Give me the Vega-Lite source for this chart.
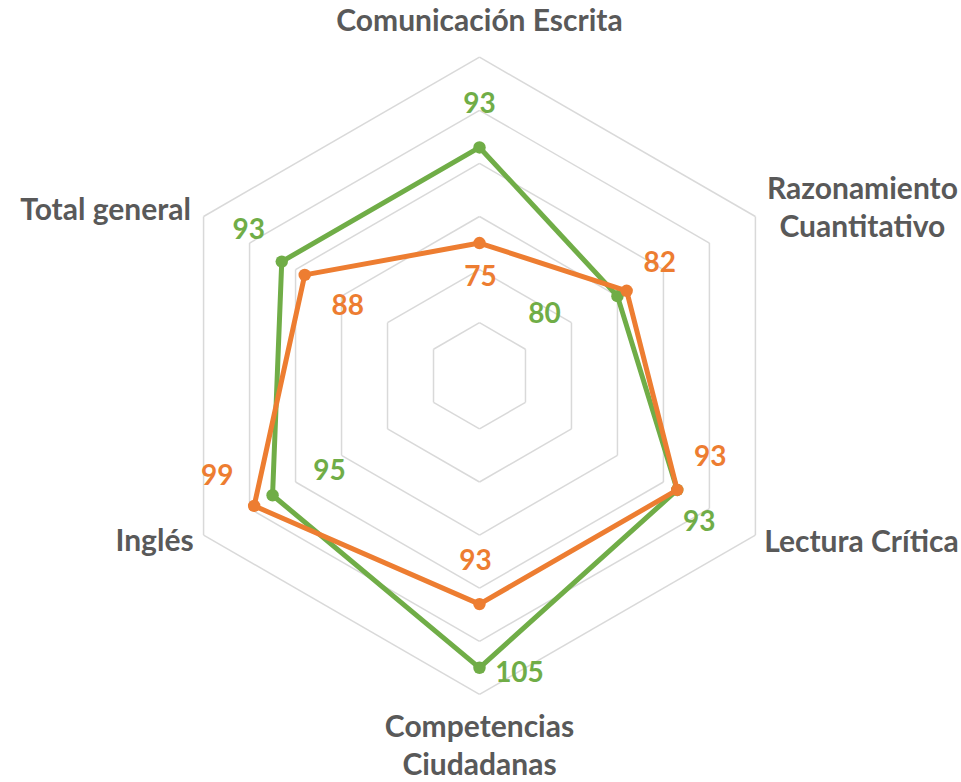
{
  "$schema": "https://vega.github.io/schema/vega-lite/v6.json",
  "width": 961,
  "height": 782,
  "autosize": {"type": "none"},
  "padding": 0,
  "background": "white",
  "config": {
    "view": {"stroke": null},
    "text": {"font": "Lato", "fontWeight": "bold", "fontSize": 28}
  },
  "datasets": {
    "puntos": [
      {"serie": "Serie 1", "eje": "Comunicación Escrita", "i": 0, "valor": 93},
      {"serie": "Serie 1", "eje": "Razonamiento Cuantitativo", "i": 1, "valor": 80},
      {"serie": "Serie 1", "eje": "Lectura Crítica", "i": 2, "valor": 93},
      {"serie": "Serie 1", "eje": "Competencias Ciudadanas", "i": 3, "valor": 105},
      {"serie": "Serie 1", "eje": "Inglés", "i": 4, "valor": 95},
      {"serie": "Serie 1", "eje": "Total general", "i": 5, "valor": 93},
      {"serie": "Serie 2", "eje": "Comunicación Escrita", "i": 0, "valor": 75},
      {"serie": "Serie 2", "eje": "Razonamiento Cuantitativo", "i": 1, "valor": 82},
      {"serie": "Serie 2", "eje": "Lectura Crítica", "i": 2, "valor": 93},
      {"serie": "Serie 2", "eje": "Competencias Ciudadanas", "i": 3, "valor": 93},
      {"serie": "Serie 2", "eje": "Inglés", "i": 4, "valor": 99},
      {"serie": "Serie 2", "eje": "Total general", "i": 5, "valor": 88}
    ],
    "ejes": [
      {"eje": "Comunicación Escrita", "i": 0},
      {"eje": "Razonamiento Cuantitativo", "i": 1},
      {"eje": "Lectura Crítica", "i": 2},
      {"eje": "Competencias Ciudadanas", "i": 3},
      {"eje": "Inglés", "i": 4},
      {"eje": "Total general", "i": 5}
    ],
    "rejilla": [
      {"nivel": 60, "i": 0}, {"nivel": 60, "i": 1}, {"nivel": 60, "i": 2}, {"nivel": 60, "i": 3}, {"nivel": 60, "i": 4}, {"nivel": 60, "i": 5},
      {"nivel": 70, "i": 0}, {"nivel": 70, "i": 1}, {"nivel": 70, "i": 2}, {"nivel": 70, "i": 3}, {"nivel": 70, "i": 4}, {"nivel": 70, "i": 5},
      {"nivel": 80, "i": 0}, {"nivel": 80, "i": 1}, {"nivel": 80, "i": 2}, {"nivel": 80, "i": 3}, {"nivel": 80, "i": 4}, {"nivel": 80, "i": 5},
      {"nivel": 90, "i": 0}, {"nivel": 90, "i": 1}, {"nivel": 90, "i": 2}, {"nivel": 90, "i": 3}, {"nivel": 90, "i": 4}, {"nivel": 90, "i": 5},
      {"nivel": 100, "i": 0}, {"nivel": 100, "i": 1}, {"nivel": 100, "i": 2}, {"nivel": 100, "i": 3}, {"nivel": 100, "i": 4}, {"nivel": 100, "i": 5},
      {"nivel": 110, "i": 0}, {"nivel": 110, "i": 1}, {"nivel": 110, "i": 2}, {"nivel": 110, "i": 3}, {"nivel": 110, "i": 4}, {"nivel": 110, "i": 5}
    ]
  },
  "encoding": {
    "x": {"field": "px", "type": "quantitative", "scale": {"domain": [-90.30, 90.68], "nice": false, "zero": false}, "axis": null},
    "y": {"field": "py", "type": "quantitative", "scale": {"domain": [-76.50, 70.77], "nice": false, "zero": false}, "axis": null}
  },
  "layer": [
    {
      "data": {"name": "rejilla"},
      "transform": [
        {"calculate": "(datum.nivel-50)*sin(datum.i*PI/3)", "as": "px"},
        {"calculate": "(datum.nivel-50)*cos(datum.i*PI/3)", "as": "py"},
        {"calculate": "(datum.nivel-50)*sin((datum.i+1)*PI/3)", "as": "px2"},
        {"calculate": "(datum.nivel-50)*cos((datum.i+1)*PI/3)", "as": "py2"}
      ],
      "mark": {"type": "rule", "color": "#D9D9D9", "strokeWidth": 1.5},
      "encoding": {"x2": {"field": "px2"}, "y2": {"field": "py2"}}
    },
    {
      "data": {"name": "puntos"},
      "transform": [
        {"filter": "datum.serie == 'Serie 1'"},
        {"window": [{"op": "lead", "field": "valor", "as": "sig"}, {"op": "first_value", "field": "valor", "as": "primero"}], "sort": [{"field": "i"}], "frame": [null, null]},
        {"calculate": "isValid(datum.sig) ? datum.sig : datum.primero", "as": "v2"},
        {"calculate": "(datum.valor-50)*sin(datum.i*PI/3)", "as": "px"},
        {"calculate": "(datum.valor-50)*cos(datum.i*PI/3)", "as": "py"},
        {"calculate": "(datum.v2-50)*sin((datum.i+1)*PI/3)", "as": "px2"},
        {"calculate": "(datum.v2-50)*cos((datum.i+1)*PI/3)", "as": "py2"}
      ],
      "mark": {"type": "rule", "color": "#70AD47", "strokeWidth": 5, "strokeCap": "round"},
      "encoding": {"x2": {"field": "px2"}, "y2": {"field": "py2"}}
    },
    {
      "data": {"name": "puntos"},
      "transform": [
        {"filter": "datum.serie == 'Serie 1'"},
        {"calculate": "(datum.valor-50)*sin(datum.i*PI/3)", "as": "px"},
        {"calculate": "(datum.valor-50)*cos(datum.i*PI/3)", "as": "py"}
      ],
      "mark": {"type": "circle", "size": 155, "color": "#70AD47", "opacity": 1}
    },
    {
      "data": {"name": "puntos"},
      "transform": [
        {"filter": "datum.serie == 'Serie 2'"},
        {"window": [{"op": "lead", "field": "valor", "as": "sig"}, {"op": "first_value", "field": "valor", "as": "primero"}], "sort": [{"field": "i"}], "frame": [null, null]},
        {"calculate": "isValid(datum.sig) ? datum.sig : datum.primero", "as": "v2"},
        {"calculate": "(datum.valor-50)*sin(datum.i*PI/3)", "as": "px"},
        {"calculate": "(datum.valor-50)*cos(datum.i*PI/3)", "as": "py"},
        {"calculate": "(datum.v2-50)*sin((datum.i+1)*PI/3)", "as": "px2"},
        {"calculate": "(datum.v2-50)*cos((datum.i+1)*PI/3)", "as": "py2"}
      ],
      "mark": {"type": "rule", "color": "#ED7D31", "strokeWidth": 5, "strokeCap": "round"},
      "encoding": {"x2": {"field": "px2"}, "y2": {"field": "py2"}}
    },
    {
      "data": {"name": "puntos"},
      "transform": [
        {"filter": "datum.serie == 'Serie 2'"},
        {"calculate": "(datum.valor-50)*sin(datum.i*PI/3)", "as": "px"},
        {"calculate": "(datum.valor-50)*cos(datum.i*PI/3)", "as": "py"}
      ],
      "mark": {"type": "circle", "size": 155, "color": "#ED7D31", "opacity": 1}
    },
    {
      "data": {"name": "ejes"},
      "transform": [
        {"filter": "datum.i == 0"},
        {"calculate": "(110-50)*sin(datum.i*PI/3)", "as": "px"},
        {"calculate": "(110-50)*cos(datum.i*PI/3)", "as": "py"}
      ],
      "mark": {"type": "text", "color": "#595959", "fontSize": 30, "dx": 0, "dy": -35},
      "encoding": {"text": {"field": "eje"}}
    },
    {
      "data": {"name": "ejes"},
      "transform": [
        {"filter": "datum.i == 1"},
        {"calculate": "(110-50)*sin(datum.i*PI/3)", "as": "px"},
        {"calculate": "(110-50)*cos(datum.i*PI/3)", "as": "py"}
      ],
      "mark": {"type": "text", "color": "#595959", "fontSize": 30, "dx": 107, "dy": -26, "lineBreak": " ", "lineHeight": 38},
      "encoding": {"text": {"field": "eje"}}
    },
    {
      "data": {"name": "ejes"},
      "transform": [
        {"filter": "datum.i == 2"},
        {"calculate": "(110-50)*sin(datum.i*PI/3)", "as": "px"},
        {"calculate": "(110-50)*cos(datum.i*PI/3)", "as": "py"}
      ],
      "mark": {"type": "text", "color": "#595959", "fontSize": 30, "dx": 106, "dy": 8},
      "encoding": {"text": {"field": "eje"}}
    },
    {
      "data": {"name": "ejes"},
      "transform": [
        {"filter": "datum.i == 3"},
        {"calculate": "(110-50)*sin(datum.i*PI/3)", "as": "px"},
        {"calculate": "(110-50)*cos(datum.i*PI/3)", "as": "py"}
      ],
      "mark": {"type": "text", "color": "#595959", "fontSize": 30, "dx": 0, "dy": 34, "lineBreak": " ", "lineHeight": 38},
      "encoding": {"text": {"field": "eje"}}
    },
    {
      "data": {"name": "ejes"},
      "transform": [
        {"filter": "datum.i == 4"},
        {"calculate": "(110-50)*sin(datum.i*PI/3)", "as": "px"},
        {"calculate": "(110-50)*cos(datum.i*PI/3)", "as": "py"}
      ],
      "mark": {"type": "text", "color": "#595959", "fontSize": 30, "dx": -49, "dy": 7},
      "encoding": {"text": {"field": "eje"}}
    },
    {
      "data": {"name": "ejes"},
      "transform": [
        {"filter": "datum.i == 5"},
        {"calculate": "(110-50)*sin(datum.i*PI/3)", "as": "px"},
        {"calculate": "(110-50)*cos(datum.i*PI/3)", "as": "py"}
      ],
      "mark": {"type": "text", "color": "#595959", "fontSize": 30, "dx": -98, "dy": -5},
      "encoding": {"text": {"field": "eje"}}
    },
    {
      "data": {"name": "puntos"},
      "transform": [{"filter": "datum.serie == 'Serie 1' && datum.i == 0"}, {"calculate": "(datum.valor-50)*sin(datum.i*PI/3)", "as": "px"}, {"calculate": "(datum.valor-50)*cos(datum.i*PI/3)", "as": "py"}],
      "mark": {"type": "text", "color": "#70AD47", "dx": 0, "dy": -42},
      "encoding": {"text": {"field": "valor", "type": "quantitative"}}
    },
    {
      "data": {"name": "puntos"},
      "transform": [{"filter": "datum.serie == 'Serie 2' && datum.i == 0"}, {"calculate": "(datum.valor-50)*sin(datum.i*PI/3)", "as": "px"}, {"calculate": "(datum.valor-50)*cos(datum.i*PI/3)", "as": "py"}],
      "mark": {"type": "text", "color": "#ED7D31", "dx": 1, "dy": 35},
      "encoding": {"text": {"field": "valor", "type": "quantitative"}}
    },
    {
      "data": {"name": "puntos"},
      "transform": [{"filter": "datum.serie == 'Serie 1' && datum.i == 1"}, {"calculate": "(datum.valor-50)*sin(datum.i*PI/3)", "as": "px"}, {"calculate": "(datum.valor-50)*cos(datum.i*PI/3)", "as": "py"}],
      "mark": {"type": "text", "color": "#70AD47", "dx": -73, "dy": 19},
      "encoding": {"text": {"field": "valor", "type": "quantitative"}}
    },
    {
      "data": {"name": "puntos"},
      "transform": [{"filter": "datum.serie == 'Serie 2' && datum.i == 1"}, {"calculate": "(datum.valor-50)*sin(datum.i*PI/3)", "as": "px"}, {"calculate": "(datum.valor-50)*cos(datum.i*PI/3)", "as": "py"}],
      "mark": {"type": "text", "color": "#ED7D31", "dx": 33, "dy": -27},
      "encoding": {"text": {"field": "valor", "type": "quantitative"}}
    },
    {
      "data": {"name": "puntos"},
      "transform": [{"filter": "datum.serie == 'Serie 1' && datum.i == 2"}, {"calculate": "(datum.valor-50)*sin(datum.i*PI/3)", "as": "px"}, {"calculate": "(datum.valor-50)*cos(datum.i*PI/3)", "as": "py"}],
      "mark": {"type": "text", "color": "#70AD47", "dx": 22, "dy": 33},
      "encoding": {"text": {"field": "valor", "type": "quantitative"}}
    },
    {
      "data": {"name": "puntos"},
      "transform": [{"filter": "datum.serie == 'Serie 2' && datum.i == 2"}, {"calculate": "(datum.valor-50)*sin(datum.i*PI/3)", "as": "px"}, {"calculate": "(datum.valor-50)*cos(datum.i*PI/3)", "as": "py"}],
      "mark": {"type": "text", "color": "#ED7D31", "dx": 33, "dy": -32},
      "encoding": {"text": {"field": "valor", "type": "quantitative"}}
    },
    {
      "data": {"name": "puntos"},
      "transform": [{"filter": "datum.serie == 'Serie 1' && datum.i == 3"}, {"calculate": "(datum.valor-50)*sin(datum.i*PI/3)", "as": "px"}, {"calculate": "(datum.valor-50)*cos(datum.i*PI/3)", "as": "py"}],
      "mark": {"type": "text", "color": "#70AD47", "dx": 40, "dy": 6},
      "encoding": {"text": {"field": "valor", "type": "quantitative"}}
    },
    {
      "data": {"name": "puntos"},
      "transform": [{"filter": "datum.serie == 'Serie 2' && datum.i == 3"}, {"calculate": "(datum.valor-50)*sin(datum.i*PI/3)", "as": "px"}, {"calculate": "(datum.valor-50)*cos(datum.i*PI/3)", "as": "py"}],
      "mark": {"type": "text", "color": "#ED7D31", "dx": -4, "dy": -42},
      "encoding": {"text": {"field": "valor", "type": "quantitative"}}
    },
    {
      "data": {"name": "puntos"},
      "transform": [{"filter": "datum.serie == 'Serie 1' && datum.i == 4"}, {"calculate": "(datum.valor-50)*sin(datum.i*PI/3)", "as": "px"}, {"calculate": "(datum.valor-50)*cos(datum.i*PI/3)", "as": "py"}],
      "mark": {"type": "text", "color": "#70AD47", "dx": 57, "dy": -23},
      "encoding": {"text": {"field": "valor", "type": "quantitative"}}
    },
    {
      "data": {"name": "puntos"},
      "transform": [{"filter": "datum.serie == 'Serie 2' && datum.i == 4"}, {"calculate": "(datum.valor-50)*sin(datum.i*PI/3)", "as": "px"}, {"calculate": "(datum.valor-50)*cos(datum.i*PI/3)", "as": "py"}],
      "mark": {"type": "text", "color": "#ED7D31", "dx": -37, "dy": -29},
      "encoding": {"text": {"field": "valor", "type": "quantitative"}}
    },
    {
      "data": {"name": "puntos"},
      "transform": [{"filter": "datum.serie == 'Serie 1' && datum.i == 5"}, {"calculate": "(datum.valor-50)*sin(datum.i*PI/3)", "as": "px"}, {"calculate": "(datum.valor-50)*cos(datum.i*PI/3)", "as": "py"}],
      "mark": {"type": "text", "color": "#70AD47", "dx": -33, "dy": -31},
      "encoding": {"text": {"field": "valor", "type": "quantitative"}}
    },
    {
      "data": {"name": "puntos"},
      "transform": [{"filter": "datum.serie == 'Serie 2' && datum.i == 5"}, {"calculate": "(datum.valor-50)*sin(datum.i*PI/3)", "as": "px"}, {"calculate": "(datum.valor-50)*cos(datum.i*PI/3)", "as": "py"}],
      "mark": {"type": "text", "color": "#ED7D31", "dx": 43, "dy": 32},
      "encoding": {"text": {"field": "valor", "type": "quantitative"}}
    }
  ]
}
